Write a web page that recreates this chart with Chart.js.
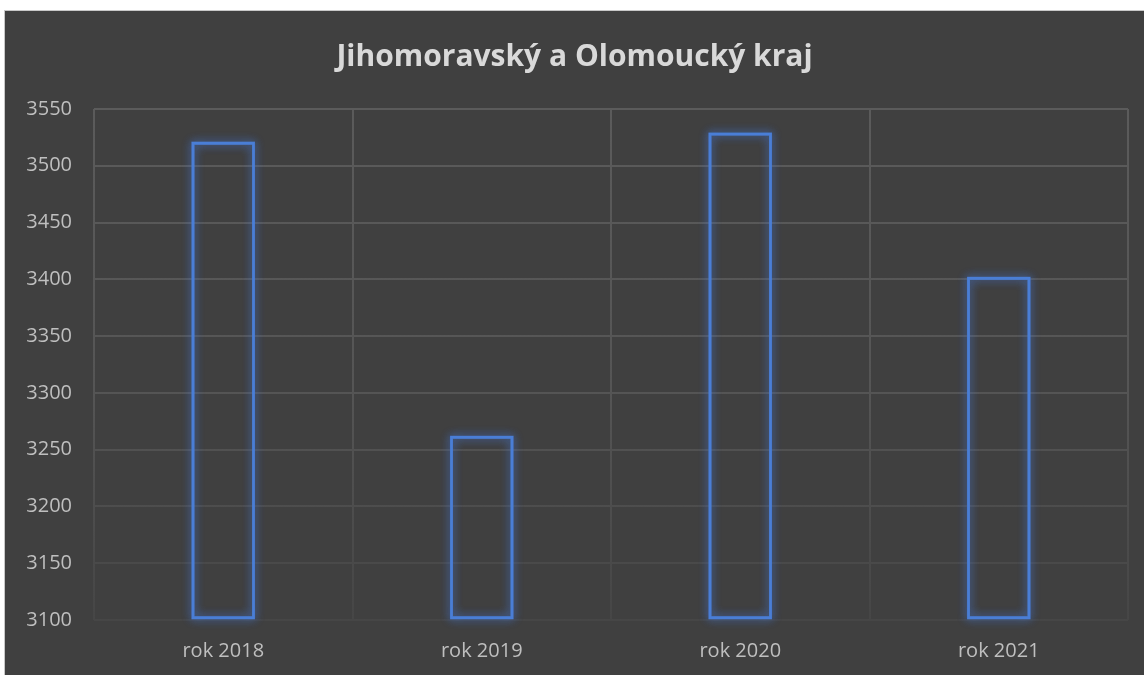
<!DOCTYPE html>
<html>
<head>
<meta charset="utf-8">
<script src="https://cdn.jsdelivr.net/npm/chart.js@4"></script>
<style>
  html, body { margin: 0; padding: 0; background: #ffffff; }
  #wrap { position: absolute; left: 4px; top: 10px; width: 1139px; height: 664px;
          border-top: 1px solid #c8c8c8; border-left: 1px solid #c8c8c8; background: #404040; }
  canvas { display: block; }
</style>
</head>
<body>
<div id="wrap"><canvas id="c" width="1139" height="664"></canvas></div>
<script>
const categories = ["rok 2018", "rok 2019", "rok 2020", "rok 2021"];
const values = [3521, 3262, 3529, 3402];
const yMin = 3100, yMax = 3550, yStep = 50;
const titleText = "Jihomoravský a Olomoucký kraj";

function gridGradient(context) {
  const chart = context.chart;
  const area = chart.chartArea;
  if (!area) return '#595959';
  const g = chart.ctx.createLinearGradient(0, area.top, 0, area.bottom);
  g.addColorStop(0, '#5b5b5b');
  g.addColorStop(0.55, '#555555');
  g.addColorStop(1, '#464646');
  return g;
}

// soft blue glow around bar outlines: uses the library's own bar elements
const glow = {
  id: 'glow',
  beforeDatasetDraw(chart, args) {
    const ctx = chart.ctx;
    const meta = args.meta;
    ctx.save();
    ctx.shadowColor = 'rgba(70,125,230,0.9)';
    ctx.shadowBlur = 10;
    for (let pass = 0; pass < 2; pass++) {
      meta.data.forEach(el => {
        const p = el.getProps(['x', 'y', 'base', 'width'], true);
        const left = p.x - p.width / 2;
        const top = Math.min(p.y, p.base);
        const h = Math.abs(p.base - p.y);
        ctx.strokeStyle = 'rgba(74,126,214,0.55)';
        ctx.lineWidth = 3;
        ctx.strokeRect(left + 1.25, top + 1.25, p.width - 2.5, h - 2.5);
      });
    }
    ctx.restore();
  }
};

new Chart(document.getElementById('c'), {
  type: 'bar',
  data: {
    labels: categories,
    datasets: [{
      data: values,
      base: yMin,
      backgroundColor: 'rgba(0,0,0,0)',
      borderColor: '#4a7ed6',
      borderWidth: 2.5,
      borderSkipped: false,
      barPercentage: 0.244,
      categoryPercentage: 1,
      clip: false
    }]
  },
  options: {
    responsive: false,
    animation: false,
    layout: { padding: { left: 16, right: 16, top: 0, bottom: 0 } },
    plugins: {
      legend: { display: false },
      tooltip: { enabled: false },
      title: {
        display: true,
        text: titleText,
        color: '#d9d9d9',
        font: { family: 'Open Sans', size: 30, weight: 'bold', lineHeight: 1.2 },
        padding: { top: 28, bottom: 34 }
      }
    },
    scales: {
      x: {
        offset: true,
        grid: { offset: true, color: gridGradient, lineWidth: 2, drawTicks: false },
        border: { display: false },
        ticks: { color: '#bfbfbf', font: { family: 'Open Sans', size: 20 }, padding: 19 },
        afterFit(scale) { scale.height = 55; }
      },
      y: {
        min: yMin, max: yMax,
        grid: { color: gridGradient, lineWidth: 2, drawTicks: false },
        border: { display: false },
        ticks: { stepSize: yStep, color: '#bfbfbf', font: { family: 'Open Sans', size: 20 }, padding: 22,
                 callback: (v) => String(v) },
        afterFit(scale) { scale.width = 73; }
      }
    }
  },
  plugins: [glow]
});
</script>
</body>
</html>
